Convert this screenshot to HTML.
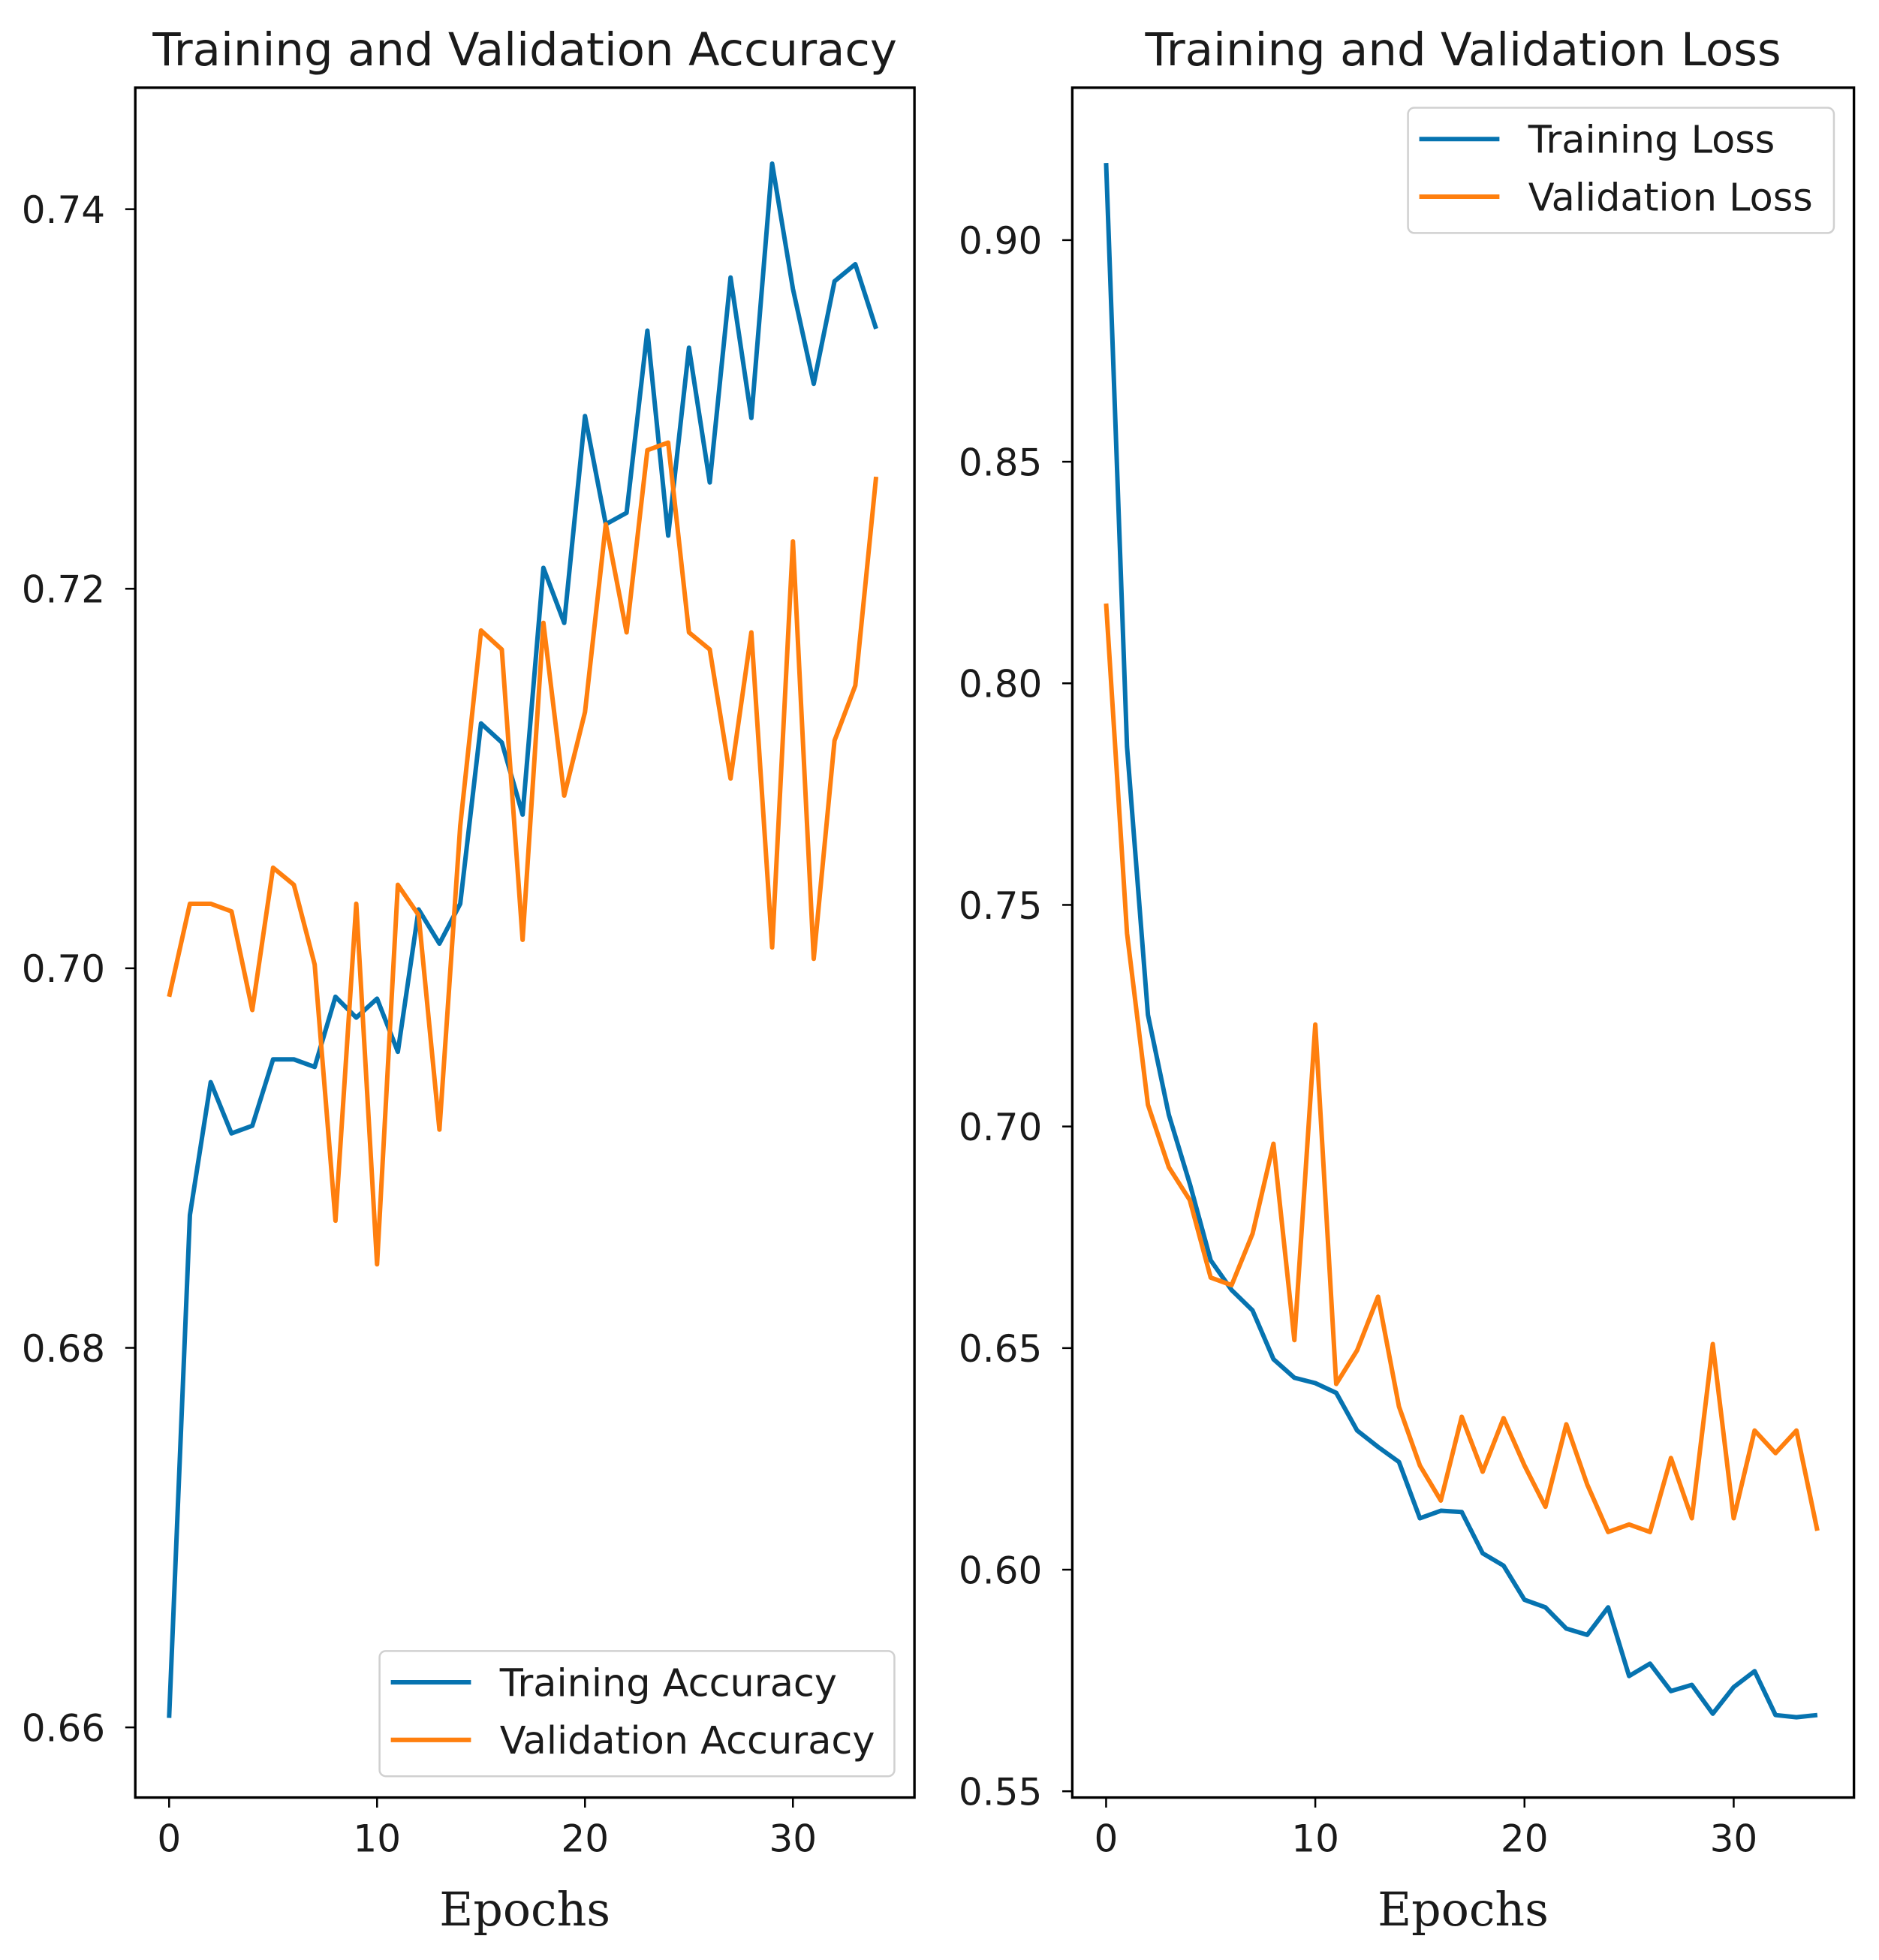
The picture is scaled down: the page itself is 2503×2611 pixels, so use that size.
<!DOCTYPE html>
<html><head><meta charset="utf-8"><style>
html,body{margin:0;padding:0;background:#fff;}
svg{display:block;}
text{font-family:"DejaVu Sans","Liberation Sans",sans-serif;fill:#1a1a1a;}
</style></head>
<body>
<svg id="fig" width="2503" height="2611" viewBox="0 0 1500 1564.7" preserveAspectRatio="none" xmlns="http://www.w3.org/2000/svg"></svg>
<script>
const epochs = Array.from({length:35},(_,i)=>i);
const trainAcc = [0.6605,0.687,0.694,0.6913,0.6917,0.6952,0.6952,0.6948,0.6985,0.6974,0.6984,0.6956,0.7031,0.7013,0.7034,0.7129,0.7119,0.7081,0.7211,0.7182,0.7291,0.7234,0.724,0.7336,0.7228,0.7327,0.7256,0.7364,0.729,0.7424,0.7358,0.7308,0.7362,0.7371,0.7337];
const valAcc = [0.6985,0.7034,0.7034,0.703,0.6978,0.7053,0.7044,0.7002,0.6867,0.7034,0.6844,0.7044,0.7028,0.6915,0.7075,0.7178,0.7168,0.7015,0.7182,0.7091,0.7135,0.7234,0.7177,0.7273,0.7277,0.7177,0.7168,0.71,0.7177,0.7011,0.7225,0.7005,0.712,0.7149,0.7259];
const trainLoss = [0.9174,0.7857,0.7252,0.7026,0.6871,0.6698,0.6631,0.6585,0.6475,0.6433,0.6421,0.6399,0.6314,0.6277,0.6243,0.6116,0.6133,0.613,0.6037,0.6009,0.5932,0.5915,0.5867,0.5853,0.5915,0.576,0.5788,0.5726,0.574,0.5675,0.5735,0.5771,0.5672,0.5667,0.5672];
const valLoss = [0.818,0.7436,0.7049,0.6908,0.6834,0.6659,0.6642,0.6758,0.6961,0.6518,0.723,0.6419,0.6495,0.6616,0.6368,0.6235,0.6156,0.6345,0.6221,0.6342,0.6235,0.6142,0.6328,0.6192,0.6085,0.6102,0.6085,0.6252,0.6116,0.6509,0.6116,0.6314,0.6263,0.6314,0.6088];
const xTicks = [0,10,20,30];
const accTicks = ["0.66","0.68","0.70","0.72","0.74"];
const lossTicks = ["0.55","0.60","0.65","0.70","0.75","0.80","0.85","0.90"];

const NS="http://www.w3.org/2000/svg";
const svg=document.getElementById('fig');
function mk(tag,attrs,parent){const e=document.createElementNS(NS,tag);for(const k in attrs)e.setAttribute(k,attrs[k]);(parent||svg).appendChild(e);return e;}

function panel(cfg){
  const g=mk('g',{});
  
  
  const xs=v=>cfg.x0+(v-0)*cfg.xk;
  const ys=v=>cfg.yRef-(v-cfg.vRef)*cfg.yk;
  const t=mk('text',{x:(cfg.L+cfg.R)/2,y:cfg.T-18,'text-anchor':'middle','font-size':36.5},g);
  t.textContent=cfg.title;
  
  
  xTicks.forEach(v=>{
    const x=xs(v);
    mk('line',{x1:x,x2:x,y1:cfg.B,y2:cfg.B+8,stroke:'#000','stroke-width':1.5},g);
    const tt=mk('text',{x:x,y:cfg.B+43,'text-anchor':'middle','font-size':30},g);
    tt.textContent=v;
    
    
  });
  cfg.yTicks.forEach(s=>{
    const y=ys(parseFloat(s));
    mk('line',{x1:cfg.L-8,x2:cfg.L,y1:y,y2:y,stroke:'#000','stroke-width':1.5},g);
    const tt=mk('text',{x:cfg.L-24,y:y+11,'text-anchor':'end','font-size':30},g);
    tt.textContent=s;
    
    
  });
  const xl=mk('text',{x:(cfg.L+cfg.R)/2,y:cfg.B+102,'text-anchor':'middle','font-size':37,style:'font-family:"DejaVu Serif","Liberation Serif",serif'},g);
  xl.textContent='Epochs';
  
  
  cfg.series.forEach(s=>{
    const p=mk('polyline',{points:s.data.map((v,i)=>xs(epochs[i])+','+ys(v)).join(' '),fill:'none',stroke:s.color,'stroke-width':3.6,'stroke-linejoin':'round'},g);
    
    
  });
  mk('rect',{x:cfg.L,y:cfg.T,width:cfg.R-cfg.L,height:cfg.B-cfg.T,fill:'none',stroke:'#000','stroke-width':2},g);
  const lg=mk('g',{},g);
  
  
  const lgd=cfg.legend;
  mk('rect',{x:lgd.x,y:lgd.y,width:lgd.w,height:100,rx:5,fill:'#fff','fill-opacity':0.85,stroke:'#d0d0d0','stroke-width':1.5},lg);
  cfg.series.forEach((s,i)=>{
    const yy=lgd.y+25+i*46;
    mk('line',{x1:lgd.x+9,x2:lgd.x+73,y1:yy,y2:yy,stroke:s.color,'stroke-width':3.6},lg);
    const tx=mk('text',{x:lgd.x+96,y:yy+11,'font-size':30.5},lg);
    tx.textContent=s.label;
    
    
  });
}
panel({name:'accuracy-chart',title:'Training and Validation Accuracy',L:108,R:730,T:70,B:1435,x0:135,xk:16.6,yRef:773,vRef:0.70,yk:15150,yTicks:accTicks,
  series:[{id:'training-accuracy-line',label:'Training Accuracy',color:'#0673b0',data:trainAcc},{id:'validation-accuracy-line',label:'Validation Accuracy',color:'#ff7f0e',data:valAcc}],
  legend:{x:303,y:1318,w:411}});
panel({name:'loss-chart',title:'Training and Validation Loss',L:856,R:1480,T:70,B:1435,x0:883,xk:16.7,yRef:1430,vRef:0.55,yk:3538,yTicks:lossTicks,
  series:[{id:'training-loss-line',label:'Training Loss',color:'#0673b0',data:trainLoss},{id:'validation-loss-line',label:'Validation Loss',color:'#ff7f0e',data:valLoss}],
  legend:{x:1124,y:86,w:340}});
</script>
</body></html>
